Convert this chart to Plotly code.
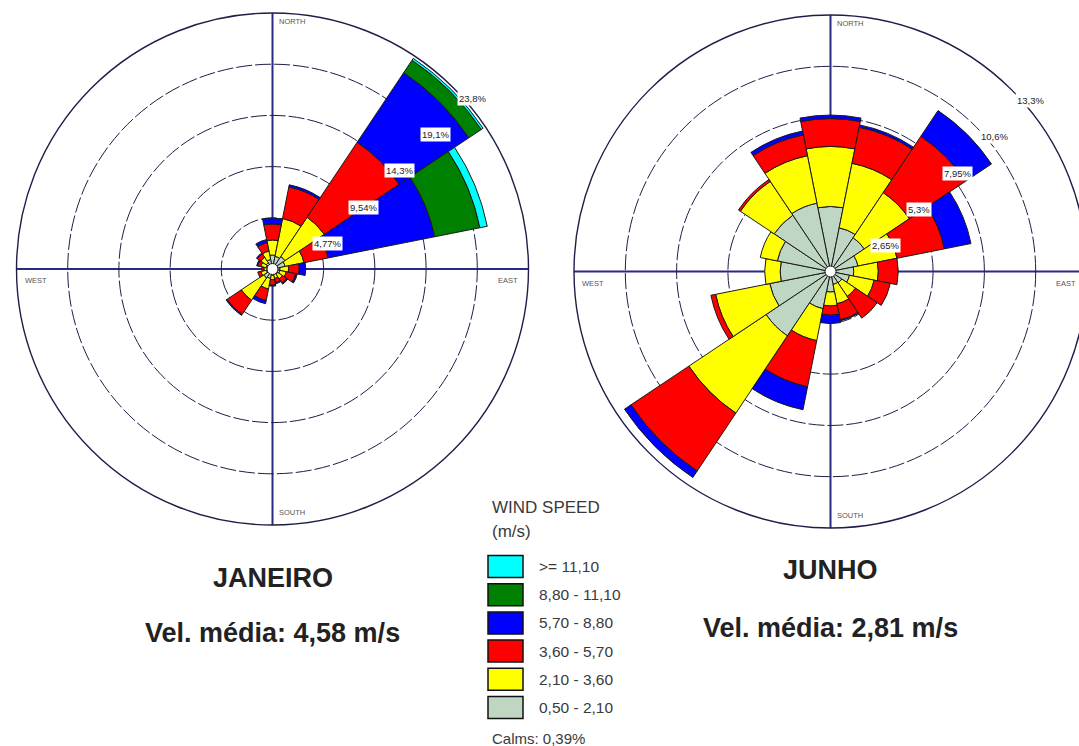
import plotly.graph_objects as go

# ---- wind directions (16 sectors, clockwise from north) ----
directions = ["N", "NNE", "NE", "ENE", "E", "ESE", "SE", "SSE",
              "S", "SSW", "SW", "WSW", "W", "WNW", "NW", "NNW"]
direction_deg = [i * 22.5 for i in range(16)]

# ---- wind speed classes (m/s), inner to outer ----
speed_classes = ["0,50 - 2,10", "2,10 - 3,60", "3,60 - 5,70",
                 "5,70 - 8,80", "8,80 - 11,10", ">= 11,10"]
class_colors = ["#bfd6c3", "#ffff00", "#ff0000", "#0000ff", "#008000", "#00ffff"]

# ---- January frequencies (%) per speed class ----
jan_050_210 = [1.3, 1.2, 1.4, 1.2, 0.7, 0.7, 0.6, 0.5, 0.6, 0.9, 1.0, 0.6, 0.5, 0.6, 0.7, 0.9]
jan_210_360 = [1.4, 3.6, 4.4, 1.8, 0.8, 0.6, 0.5, 0.4, 0.4, 1.0, 2.5, 0.5, 0.3, 0.5, 0.6, 0.8]
jan_360_570 = [1.5, 3.0, 8.4, 2.3, 1.0, 0.9, 0.5, 0.4, 0.5, 1.1, 1.6, 0.3, 0.2, 0.3, 0.4, 0.8]
jan_570_880 = [0.55, 0.2, 7.8, 10.1, 0.6, 0.15, 0.1, 0.1, 0.1, 0.3, 0.1, 0.0, 0.0, 0.1, 0.1, 0.3]
jan_880_1110 = [0, 0, 1.4, 4.3, 0, 0, 0, 0, 0, 0, 0, 0, 0, 0, 0, 0]
jan_1110_up = [0, 0, 0.2, 0.7, 0, 0, 0, 0, 0, 0, 0, 0, 0, 0, 0, 0]

# ---- June frequencies (%) per speed class ----
jun_050_210 = [3.36, 2.3, 2.1, 1.45, 1.2, 1.0, 0.7, 0.68, 1.06, 1.96, 4.0, 3.2, 2.6, 2.8, 3.5, 3.6]
jun_210_360 = [3.1, 3.4, 2.8, 2.05, 1.27, 1.3, 0.85, 1.02, 0.72, 1.68, 4.8, 2.85, 0.8, 0.9, 2.1, 2.5]
jun_360_570 = [1.44, 1.9, 3.5, 2.5, 1.03, 0.85, 1.35, 0.85, 0.48, 2.43, 3.6, 0.25, 0.0, 0.0, 0.12, 1.1]
jun_570_880 = [0.18, 0.12, 1.6, 1.4, 0.0, 0.0, 0.0, 0.05, 0.43, 1.21, 0.4, 0.0, 0.0, 0.0, 0.0, 0.2]
jun_880_1110 = [0] * 16
jun_1110_up = [0] * 16

# ---- ring values and their labels ----
jan_rings = [4.77, 9.54, 14.31, 19.08, 23.85]
jan_ring_labels = ["4,77%", "9,54%", "14,3%", "19,1%", "23,8%"]
jun_rings = [2.65, 5.30, 7.95, 10.60, 13.25]
jun_ring_labels = ["2,65%", "5,3%", "7,95%", "10,6%", "13,3%"]

months = ["JANEIRO", "JUNHO"]
mean_speed = ["Vel. média: 4,58 m/s", "Vel. média: 2,81 m/s"]
calms_text = "Calms: 0,39%"

# ---- page geometry (pixels) ----
W, H = 1095, 746
centers = [(272.5, 269.0), (830.5, 271.5)]
radius_px = [256.0, 256.5]
month_y = [578, 570]
speed_y = [633, 628]

GRID = "#1e1e48"
AXIS = "#2a2a80"
TEXT = "#3a3a3a"
FONT = "Liberation Sans"


def fx(x):
    return x / W


def fy(y):
    return 1 - y / H


fig = go.Figure()

month_series = [
    [jan_050_210, jan_210_360, jan_360_570, jan_570_880, jan_880_1110, jan_1110_up],
    [jun_050_210, jun_210_360, jun_360_570, jun_570_880, jun_880_1110, jun_1110_up],
]
polar_ids = ["polar", "polar2"]

for series, pid in zip(month_series, polar_ids):
    for values, name, color in zip(series, speed_classes, class_colors):
        theta = [d for d, v in zip(direction_deg, values) if v > 0]
        r = [v for v in values if v > 0]
        if not r:
            continue
        fig.add_trace(go.Barpolar(
            r=r, theta=theta, width=22.5, name=name, subplot=pid,
            marker=dict(color=color, line=dict(color="#1a1a1a", width=1)),
            showlegend=False, hoverinfo="skip",
        ))
    # calm circle in the middle
    fig.add_trace(go.Scatterpolar(
        r=[0], theta=[0], mode="markers", subplot=pid, showlegend=False,
        marker=dict(size=11, color="white", line=dict(color="#1a1a1a", width=1)),
        hoverinfo="skip",
    ))


def polar_layout(center, rad, rings):
    cx, cy = center
    return dict(
        domain=dict(x=[fx(cx - rad), fx(cx + rad)], y=[fy(cy + rad), fy(cy - rad)]),
        bgcolor="white",
        barmode="stack",
        radialaxis=dict(
            range=[0, rings[-1]], tickvals=rings[:-1], showticklabels=False,
            ticks="", showline=False, showgrid=True, gridcolor=GRID, gridwidth=1.4,
            griddash="16px,3px", layer="below traces",
        ),
        angularaxis=dict(
            direction="clockwise", rotation=90, tickvals=[0, 90, 180, 270],
            showticklabels=False, ticks="", showgrid=True, gridcolor=AXIS,
            gridwidth=1.6, showline=True, linecolor=GRID, linewidth=1.4,
            layer="below traces",
        ),
    )


annotations = []
shapes = []
ring_sets = [(jan_rings, jan_ring_labels), (jun_rings, jun_ring_labels)]
for k, ((cx, cy), rad, (rings, labels)) in enumerate(zip(centers, radius_px, ring_sets)):
    # ring percentage labels along the north-east diagonal
    for val, lab in zip(rings, labels):
        rp = val / rings[-1] * rad
        annotations.append(dict(
            x=fx(cx + rp * 0.7071 + 3), y=fy(cy - rp * 0.7071 + 10.5),
            xref="paper", yref="paper", xanchor="left", yanchor="middle",
            text=lab, showarrow=False, bgcolor="white", borderpad=1,
            font=dict(family=FONT, size=9.5, color="#222"),
        ))
    # compass labels
    compass = [("NORTH", cx + 4, cy - rad + 8), ("WEST", cx - rad + 6, cy + 12),
               ("EAST", cx + rad - 33, cy + 12), ("SOUTH", cx + 4, cy + rad - 13)]
    for txt, x, y in compass:
        annotations.append(dict(
            x=fx(x), y=fy(y), xref="paper", yref="paper", xanchor="left",
            yanchor="middle", text=txt, showarrow=False,
            font=dict(family=FONT, size=7.5, color="#555"),
        ))
    # month and mean speed
    annotations.append(dict(
        x=fx(cx), y=fy(month_y[k]), xref="paper", yref="paper",
        xanchor="center", yanchor="middle",
        text="<b>%s</b>" % months[k], showarrow=False,
        font=dict(family=FONT, size=27, color="#222"),
    ))
    annotations.append(dict(
        x=fx(cx), y=fy(speed_y[k]), xref="paper", yref="paper",
        xanchor="center", yanchor="middle",
        text="<b>%s</b>" % mean_speed[k], showarrow=False,
        font=dict(family=FONT, size=27, color="#222"),
    ))

# ---- speed legend ----
annotations.append(dict(x=fx(490), y=fy(507), xref="paper", yref="paper", xanchor="left",
                        yanchor="middle", text="WIND SPEED", showarrow=False,
                        font=dict(family=FONT, size=17, color=TEXT)))
annotations.append(dict(x=fx(490), y=fy(531), xref="paper", yref="paper", xanchor="left",
                        yanchor="middle", text="(m/s)", showarrow=False,
                        font=dict(family=FONT, size=17, color=TEXT)))
legend_top = 566.5
legend_step = 28.2
for i, (name, color) in enumerate(zip(reversed(speed_classes), reversed(class_colors))):
    yc = legend_top + i * legend_step
    shapes.append(dict(type="rect", xref="paper", yref="paper",
                       x0=fx(488), x1=fx(523), y0=fy(yc + 11), y1=fy(yc - 11),
                       fillcolor=color, line=dict(color="#111", width=1.5)))
    annotations.append(dict(x=fx(537), y=fy(yc), xref="paper", yref="paper",
                            xanchor="left", yanchor="middle", text=name.replace(">=", "&gt;="),
                            showarrow=False, font=dict(family=FONT, size=15.5, color=TEXT)))
annotations.append(dict(x=fx(490), y=fy(738), xref="paper", yref="paper", xanchor="left",
                        yanchor="middle", text=calms_text, showarrow=False,
                        font=dict(family=FONT, size=15, color=TEXT)))

fig.update_layout(
    width=W, height=H, margin=dict(l=0, r=0, t=0, b=0),
    paper_bgcolor="white", plot_bgcolor="white",
    polar=polar_layout(centers[0], radius_px[0], jan_rings),
    polar2=polar_layout(centers[1], radius_px[1], jun_rings),
    annotations=annotations, shapes=shapes, showlegend=False,
)

fig.write_html(
    "out.html",
    post_script="document.documentElement.style.overflow='hidden';"
                "document.body.style.overflow='hidden';document.body.style.margin='0';",
)
